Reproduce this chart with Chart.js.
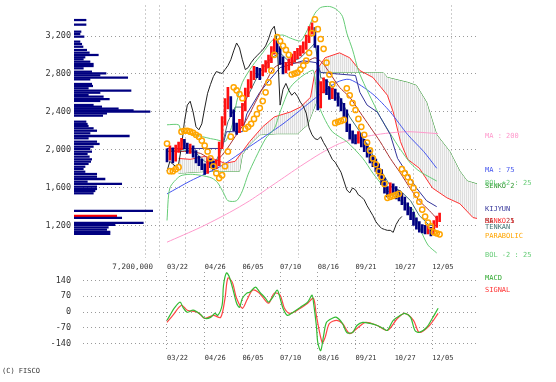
<!DOCTYPE html>
<html><head><meta charset="utf-8">
<script src="https://cdn.jsdelivr.net/npm/chart.js@4/dist/chart.umd.min.js"></script>
<style>
html,body{margin:0;padding:0;background:#fff;width:556px;height:382px;overflow:hidden}
.c{position:absolute;left:0}
</style></head><body>
<div class="c" style="top:0"><canvas id="price" width="556" height="275"></canvas></div>
<div class="c" style="top:0"><canvas id="vol" width="556" height="275"></canvas></div>
<div class="c" style="top:262px"><canvas id="macd" width="556" height="120"></canvas></div>
<script>
// ---------- data ----------
const dateLabels = ['03/22','04/26','06/05','07/10','08/16','09/21','10/27','12/05'];
const dateBars = [0,26,52,78,104,130,157,183];
const priceTicks = [1200,1600,2000,2400,2800,3200];
const macdTicks = [-140,-70,0,70,140];
const candleStep = 2;       // one candle sample every 2 bars
const chikouShift = 26;

const candleClose = [1929,1981,1898,2002,2033,2085,2054,2002,2012,1960,
 1898,1877,1825,1773,1877,1846,1825,1846,2033,2294,
 2471,2512,2398,2242,2210,2273,2440,2596,2690,2773,
 2825,2815,2804,2846,2888,2950,3044,3127,3075,2950,
 2846,2867,2919,2960,2992,3023,3054,3096,3169,3263,
 3304,3127,2471,2637,2700,2627,2575,2606,2564,2502,
 2460,2387,2231,2158,2116,2106,2137,2075,2023,1960,
 1898,1867,1815,1762,1669,1575,1544,1596,1575,1523,
 1502,1471,1408,1356,1304,1241,1200,1169,1158,1148,
 1148,1127,1210,1262,1295];
const candleHigh = [2010,2040,2020,2050,2080,2120,2110,2070,2060,2040,
 1990,1930,1900,1850,1910,1900,1880,1890,2080,2350,
 2540,2660,2560,2420,2280,2320,2490,2650,2740,2830,
 2880,2870,2860,2900,2940,3000,3090,3170,3150,3090,
 2980,2920,2960,3010,3040,3070,3100,3140,3210,3300,
 3340,3290,3100,2720,2760,2740,2670,2650,2640,2600,
 2540,2490,2420,2270,2200,2160,2190,2170,2110,2060,
 1990,1940,1900,1850,1790,1700,1610,1650,1640,1610,
 1570,1540,1500,1440,1390,1340,1280,1240,1210,1200,
 1190,1180,1250,1300,1330];
const candleLow = [1870,1890,1860,1880,1970,2000,2010,1960,1960,1920,
 1860,1830,1790,1740,1750,1810,1790,1800,1830,2010,
 2260,2430,2350,2200,2160,2180,2250,2410,2560,2650,
 2740,2760,2740,2780,2820,2860,2920,3010,3030,2900,
 2800,2810,2840,2890,2930,2960,2990,3020,3060,3130,
 3220,3080,2420,2440,2600,2580,2530,2540,2520,2460,
 2410,2340,2190,2110,2070,2060,2070,2030,1980,1920,
 1860,1820,1770,1720,1630,1540,1500,1520,1530,1480,
 1460,1420,1360,1310,1260,1200,1160,1130,1120,1110,
 1110,1090,1110,1180,1240];
const parabolic = [2065,1773,1773,1794,1815,2190,2200,2200,2190,2179,
 2158,2138,2096,2044,1981,1908,1825,1752,1700,1731,
 1825,1981,2138,2659,2627,2586,2544,2221,2242,2273,
 2325,2377,2440,2513,2606,2711,2836,3002,3190,3148,
 3096,3054,3002,2794,2804,2815,2846,2888,2940,3023,
 3231,3377,3273,3169,3065,2919,2794,2690,2283,2294,
 2304,2315,2648,2575,2492,2419,2325,2242,2158,2075,
 1992,1908,1846,1773,1711,1638,1492,1502,1513,1523,
 1534,1794,1752,1711,1659,1596,1523,1450,1367,1294,
 1231,1190,1127,1117,1106];

// [bar, value]
const ma200 = [[0,1023],[23,1179],[43,1336],[57,1461],[75,1648],[92,1825],[106,1961],[119,2065],[133,2127],[149,2169],[166,2190],[187,2169]];
const ma75 = [[0,1533],[16,1669],[37,1825],[57,2033],[80,2273],[103,2554],[117,2711],[126,2742],[142,2586],[154,2398],[166,2159],[177,1981],[186,1804]];
const ma25 = [[0,1981],[12,1981],[23,1961],[33,1877],[40,1981],[47,2138],[54,2294],[61,2502],[68,2711],[74,2867],[81,2919],[88,2919],[95,2919],[102,2971],[107,2919],[112,2815],[119,2659],[126,2554],[133,2398],[140,2242],[147,2085],[154,1908],[161,1752],[168,1585],[174,1461],[181,1356],[186,1273]];
const bolUpper = [[0,2263],[8,2263],[10,2190],[19,2158],[30,2117],[34,2106],[40,2085],[42,2138],[45,2263],[48,2502],[52,2711],[59,2888],[66,3023],[71,3127],[76,3200],[80,3211],[85,3179],[92,3148],[95,3211],[99,3336],[102,3440],[106,3502],[112,3513],[117,3481],[121,3409],[124,3231],[128,3054],[132,2836],[137,2659],[142,2502],[147,2346],[154,2169],[161,2002],[168,1856],[174,1773],[181,1711],[186,1669]];
const bolLower = [[0,1252],[2,1596],[9,1721],[16,1740],[23,1730],[31,1700],[35,1650],[39,1544],[42,1461],[48,1461],[52,1565],[56,1742],[61,1909],[68,2117],[74,2221],[78,2398],[85,2658],[92,2763],[97,2815],[101,2836],[104,2502],[108,2346],[114,2190],[124,2085],[135,1909],[142,1752],[149,1617],[156,1513],[164,1429],[169,1377],[175,1148],[180,992],[186,909]];
const kijun = [[0,2013],[14,2013],[38,2013],[41,2190],[52,2190],[55,2377],[64,2606],[71,2742],[78,2867],[94,2940],[103,2919],[106,2815],[130,2784],[133,2606],[138,2471],[145,2398],[149,2294],[154,2159],[159,1908],[166,1742],[172,1596],[179,1461],[186,1398]];
const tenkan = [[0,1981],[9,2002],[19,1981],[26,1877],[32,1825],[37,1981],[42,2294],[47,2450],[52,2450],[57,2606],[63,2794],[68,2898],[72,2971],[78,3023],[85,2919],[92,2971],[99,3075],[102,3127],[106,2763],[112,2711],[119,2554],[126,2346],[133,2190],[140,2002],[147,1794],[154,1617],[161,1565],[168,1461],[174,1304],[181,1200],[186,1200]];
const senko1 = [[8,1908],[16,1898],[26,1929],[33,1898],[40,1856],[47,1877],[52,1981],[57,2085],[66,2242],[74,2346],[85,2398],[92,2450],[99,2554],[102,2815],[109,2971],[119,3023],[126,2971],[133,2836],[142,2763],[152,2575],[156,2398],[161,2085],[166,1898],[174,1804],[183,1596],[193,1492],[202,1429],[211,1283],[214,1273]];
const senko2 = [[8,1752],[30,1773],[50,1773],[52,1950],[57,2054],[64,2158],[76,2169],[90,2169],[97,2263],[103,2502],[106,2815],[131,2815],[149,2815],[152,2763],[166,2711],[172,2679],[179,2502],[186,2159],[195,1981],[202,1773],[207,1669],[214,1638]];

const macdLine = [[0,-37],[2,-15],[5,17],[9,44],[11,21],[14,-1],[18,8],[23,-10],[26,-28],[30,-24],[33,-6],[35,-15],[38,30],[39,120],[41,174],[43,156],[46,88],[48,39],[50,21],[52,61],[55,84],[57,88],[61,111],[64,88],[68,61],[70,44],[73,66],[76,97],[78,61],[80,17],[83,-15],[87,-1],[92,21],[97,44],[100,75],[101,44],[103,-60],[104,-136],[106,-172],[108,-105],[110,-46],[114,-28],[117,-24],[121,-51],[124,-91],[128,-91],[131,-60],[135,-46],[140,-51],[145,-60],[149,-73],[152,-82],[156,-37],[161,-15],[164,-6],[168,-24],[171,-82],[174,-91],[179,-69],[183,-28],[187,17]];
const signalLine = [[0,-46],[4,-15],[10,30],[14,8],[21,-1],[26,-28],[32,-15],[37,-24],[40,61],[42,151],[45,133],[48,61],[52,17],[55,52],[59,97],[63,88],[66,66],[70,39],[74,84],[78,75],[81,17],[85,-6],[92,17],[97,39],[101,61],[103,-15],[107,-136],[109,-114],[112,-51],[117,-37],[121,-51],[126,-96],[131,-73],[137,-46],[145,-60],[152,-82],[159,-28],[164,-6],[170,-37],[174,-91],[181,-60],[187,-6]];

// volume by price
const vpPrice = [3335,3287,3214,3190,3162,3110,3085,3057,3023,2995,2971,2947,2926,2901,2877,2856,2832,2797,2780,2759,2735,2717,2669,2648,2624,2599,2578,2554,2537,2512,2492,2450,2432,2412,2395,2380,2363,2339,2276,2252,2231,2207,2182,2155,2127,2103,2068,2044,2016,1992,1964,1940,1912,1884,1860,1836,1807,1783,1755,1731,1703,1679,1651,1627,1599,1575,1554,1530,1346,1294,1273,1221,1200,1176,1152,1128,1107];
const vpVolume = [1094000,1094000,638000,547000,911000,547000,702000,820000,1157000,1394000,2215000,1003000,848000,1458000,1759000,1759000,848000,1613000,2916000,2370000,4894000,1458000,1613000,1704000,1303000,5195000,2370000,1303000,2670000,3217000,2370000,1759000,2525000,4037000,5404000,6927000,2980000,2616000,1094000,1212000,1303000,1759000,2069000,1458000,5040000,1303000,2069000,2306000,1759000,1458000,1613000,1212000,1394000,1613000,1522000,1303000,1003000,848000,1003000,2069000,2069000,2825000,1212000,4347000,2069000,2069000,1914000,1759000,7200000,3892000,4347000,6316000,3737000,3126000,2980000,3281000,3281000];
const vpMax = 7200000;

// ---------- rendering ----------
const FONT = '"DejaVu Sans Mono", monospace';
const GRID = '#9a9a9a';
const xMin = -57.93, xMax = 213.79;
const priceMin = 856, priceMax = 3523;
const leftBorderBar = -9.66;
const pts = a => a.map(p => ({x: p[0], y: p[1]}));

const pc = document.createElement('canvas'); pc.width = 2; pc.height = 2;
const pcx = pc.getContext('2d');
pcx.fillStyle = '#f6f6f6'; pcx.fillRect(0,0,2,2);
pcx.fillStyle = '#dedede'; pcx.fillRect(0,0,1,2);
const hatch = pcx.createPattern(pc, 'repeat');

const lastClose = candleClose[candleClose.length - 1];
let curBin = 0;
vpPrice.forEach((p,i) => { if (Math.abs(p - lastClose) < Math.abs(vpPrice[curBin] - lastClose)) curBin = i; });

const rightLabels = {
  id: 'rightLabels',
  afterDraw(chart) {
    const ctx = chart.ctx, ys = chart.scales.y;
    ctx.save();
    ctx.font = '7px ' + FONT; ctx.textAlign = 'left'; ctx.textBaseline = 'middle';
    chart.data.datasets.forEach(d => {
      if (!d.tag) return;
      const last = d.data[d.data.length - 1];
      ctx.fillStyle = d.tagColor || d.borderColor;
      ctx.fillText(d.tag, 485, Math.round(ys.getPixelForValue(last.y)) + 2);
    });
    ctx.restore();
  }
};

function line(data, color, tag, order, extra) {
  return Object.assign({type: 'line', data: pts(data), borderColor: color, borderWidth: 1, pointRadius: 0, tension: 0.25, fill: false, tag: tag, order: order}, extra || {});
}

const ds = [];
ds.push(line(senko2, '#339933', 'SENKO 2', 20, {tension: 0}));
ds.push(line(senko1, '#ff3333', 'SENKO 1', 19, {tension: 0, fill: {target: 0}, backgroundColor: hatch}));
ds.push(line(ma200, '#ff99cc', 'MA : 200', 15));
ds.push(line(ma75, '#4455ee', 'MA : 75', 14));
ds.push(line(bolUpper, '#66cc77', 'BOL +2 : 25', 13));
ds.push(line(bolLower, '#66cc77', 'BOL -2 : 25', 13));
ds.push(line(kijun, '#333399', 'KIJYUN', 12, {tension: 0}));
ds.push(line(ma25, '#aa3333', 'MA : 25', 11));
ds.push(line(tenkan, '#447777', 'TENKAN', 10, {tension: 0}));
ds.push({type: 'line', data: candleClose.slice(chikouShift / candleStep).map((c, j) => ({x: (j + chikouShift / candleStep) * candleStep - chikouShift, y: c})),
  borderColor: '#222', borderWidth: 1, pointRadius: 0, tension: 0, order: 9});
ds.push({type: 'bar', data: candleHigh.map((h, k) => ({x: k * candleStep, y: [candleLow[k], h]})),
  backgroundColor: candleClose.map((c, k) => (k > 0 && c >= candleClose[k - 1]) ? '#ff1111' : '#000080'),
  barThickness: 2, grouped: false, borderWidth: 0, order: 5});
ds.push({type: 'line', data: parabolic.map((v, k) => ({x: k * candleStep, y: v})), showLine: false,
  pointRadius: 2.6, pointBorderColor: '#ffa500', pointBackgroundColor: 'rgba(255,255,255,0)', pointBorderWidth: 1.5,
  borderColor: '#ffa500', tag: 'PARABOLIC', order: 1});

const noPadX = s => { s.paddingLeft = 0; s.paddingRight = 0; };
const noPadY = s => { s.paddingTop = 0; s.paddingBottom = 0; };

const xScale = (labels, pad, h) => ({
  type: 'linear', min: xMin, max: xMax, offset: false,
  afterBuildTicks: s => { s.ticks = labels.map(v => ({value: v})); },
  afterFit: s => { s.height = h; noPadX(s); },
  grid: {color: GRID, drawTicks: false, lineWidth: 1},
  border: {display: false, dash: [1, 3]},
  ticks: {align: 'start', padding: pad, autoSkip: false, maxRotation: 0, font: {family: FONT, size: 7}, color: '#333',
    callback: v => { const i = dateBars.indexOf(v); return i >= 0 ? dateLabels[i] : ''; }}
});
const yScale = (min, max, ticks, fmt) => ({
  min: min, max: max,
  afterBuildTicks: s => { s.ticks = ticks.map(v => ({value: v})); },
  afterFit: s => { s.width = 83; noPadY(s); },
  grid: {color: GRID, drawTicks: false},
  border: {display: false, dash: [1, 3]},
  ticks: {padding: 12, font: {family: FONT, size: 8.5}, color: '#333', callback: fmt}
});

new Chart(document.getElementById('price'), {
  type: 'line',
  data: {datasets: ds},
  options: {
    responsive: false, animation: false, events: [],
    layout: {padding: {left: 0, right: 79, top: 2, bottom: 0}},
    plugins: {legend: {display: false}, tooltip: {enabled: false}},
    scales: {
      x: xScale([leftBorderBar].concat(dateBars), 5, 17),
      y: yScale(priceMin, priceMax, priceTicks, v => v.toLocaleString('en-US'))
    }
  },
  plugins: [rightLabels]
});

new Chart(document.getElementById('vol'), {
  type: 'bar',
  data: {datasets: [{data: vpPrice.map((p, i) => ({x: vpVolume[i], y: p})),
    backgroundColor: vpPrice.map((p, i) => i === curBin ? '#ff0000' : '#000080'),
    barThickness: 1.6, borderWidth: 0}]},
  options: {
    indexAxis: 'y', responsive: false, animation: false, events: [],
    layout: {padding: {left: 74, right: 403, top: 2, bottom: 0}},
    plugins: {legend: {display: false}, tooltip: {enabled: false}},
    scales: {
      y: {type: 'linear', min: priceMin, max: priceMax, display: false, offset: false},
      x: {type: 'linear', min: 0, max: vpMax,
        afterBuildTicks: s => { s.ticks = [{value: vpMax}]; },
        afterFit: s => { s.height = 17; noPadX(s); },
        grid: {display: false, drawTicks: false}, border: {display: false},
        ticks: {align: 'end', padding: 5, font: {family: FONT, size: 7.5}, color: '#333', callback: v => v.toLocaleString('en-US')}}
    }
  }
});

const macdLabels = {
  id: 'macdLabels',
  afterDraw(chart) {
    const ctx = chart.ctx;
    ctx.save();
    ctx.font = '7px ' + FONT; ctx.textAlign = 'left'; ctx.textBaseline = 'middle';
    ctx.fillStyle = '#33aa33'; ctx.fillText('MACD', 485, 16);
    ctx.fillStyle = '#ff3333'; ctx.fillText('SIGNAL', 485, 28);
    ctx.fillStyle = '#333'; ctx.fillText('(C) FISCO', 2, 109);
    ctx.restore();
  }
};

new Chart(document.getElementById('macd'), {
  type: 'line',
  data: {datasets: [
    {data: pts(macdLine), borderColor: '#33bb33', borderWidth: 1.2, pointRadius: 0, tension: 0.3},
    {data: pts(signalLine), borderColor: '#ff4444', borderWidth: 1.2, pointRadius: 0, tension: 0.3}
  ]},
  options: {
    responsive: false, animation: false, events: [],
    layout: {padding: {left: 0, right: 79, top: 10, bottom: 20}},
    plugins: {legend: {display: false}, tooltip: {enabled: false}},
    scales: {
      x: xScale(dateBars, 2, 10),
      y: yScale(-178, 178, macdTicks, v => String(v))
    }
  },
  plugins: [macdLabels]
});
</script>
</body></html>
